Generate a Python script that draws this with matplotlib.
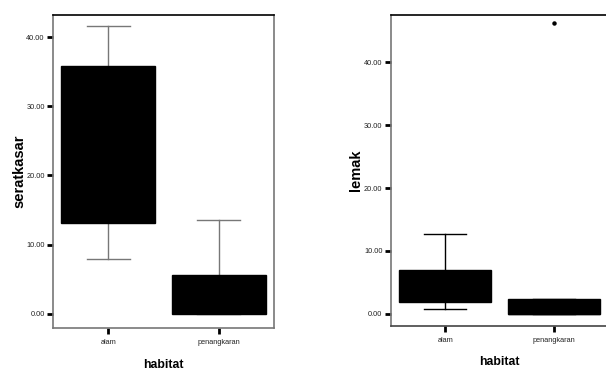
import matplotlib
matplotlib.use('Agg')
import matplotlib.pyplot as plt

#------------------------------------------------
# data
habitat = ['alam', 'penangkaran']

# seratkasar
serat_lo = [7.9, 0.0]
serat_q1 = [13.1, 0.0]
serat_med = [24.0, 2.5]
serat_q3 = [35.9, 5.55]
serat_hi = [41.7, 13.5]
serat_fliers = [[], []]

# lemak
lemak_lo = [0.84, 0.0]
lemak_q1 = [1.86, 0.05]
lemak_med = [4.0, 0.05]
lemak_q3 = [6.95, 2.43]
lemak_hi = [12.67, 2.43]
lemak_fliers = [[], [46.2]]

yticks = [0, 10, 20, 30, 40]

#------------------------------------------------
plt.rcParams['font.family'] = ['Liberation Sans', 'DejaVu Sans']


def make_stats(lo, q1, med, q3, hi, fl):
    st = []
    for i in range(len(habitat)):
        st.append(dict(whislo=lo[i], q1=q1[i], med=med[i], q3=q3[i],
                       whishi=hi[i], fliers=fl[i], label=habitat[i]))
    return st


def draw(ax, stats, ylabel, ylim, wcol, ypad):
    ax.bxp(stats, positions=[0, 1], widths=0.85, patch_artist=True,
           boxprops=dict(facecolor='black', edgecolor='black', linewidth=1, zorder=3),
           medianprops=dict(color='black', linewidth=1, zorder=4),
           whiskerprops=dict(color=wcol, linewidth=1, zorder=1),
           capprops=dict(color=wcol, linewidth=1, zorder=1),
           capwidths=0.39,
           flierprops=dict(marker='o', markersize=2.2, markerfacecolor='black',
                           markeredgecolor='black'))
    ax.set_xlim(-0.5, 1.5)
    ax.set_ylim(ylim)
    ax.set_yticks(yticks)
    ax.set_yticklabels(['%.2f' % v for v in yticks], fontsize=5.3, color='#222222')
    ax.set_xticks([0, 1])
    ax.set_xticklabels(habitat, fontsize=5.3, color='#222222')
    ax.tick_params(axis='both', length=4, width=2, color='black', pad=2)
    ax.tick_params(axis='x', pad=4)
    ax.set_ylabel(ylabel, fontsize=10.5, fontweight='bold', labelpad=ypad)
    ax.set_xlabel('habitat', fontsize=8.8, fontweight='bold', labelpad=9)
    for s in ['left', 'right', 'bottom']:
        ax.spines[s].set_color('#777777')
        ax.spines[s].set_linewidth(1.2)
    ax.spines['top'].set_color('black')
    ax.spines['top'].set_linewidth(1.2)


fig = plt.figure(figsize=(6.06, 3.72), dpi=100)
ax1 = fig.add_axes([0.0875, 0.118, 0.365, 0.841])
ax2 = fig.add_axes([0.645, 0.124, 0.359, 0.836])

draw(ax1, make_stats(serat_lo, serat_q1, serat_med, serat_q3, serat_hi, serat_fliers),
     'seratkasar', (-2.1, 43.2), '#777777', 0)
draw(ax2, make_stats(lemak_lo, lemak_q1, lemak_med, lemak_q3, lemak_hi, lemak_fliers),
     'lemak', (-1.9, 47.5), 'black', 1)
ax2.spines['bottom'].set_color('#444444')

fig.savefig('out.png', dpi=100)
